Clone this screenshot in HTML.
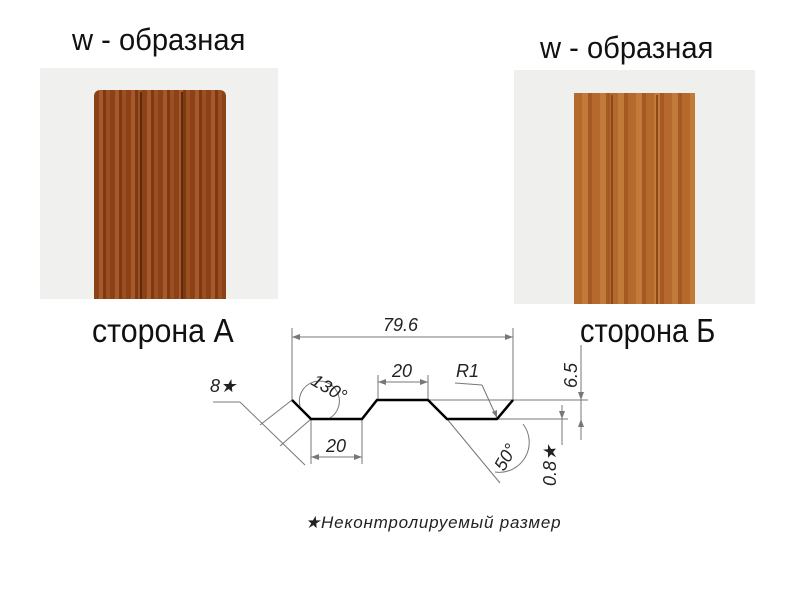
<!DOCTYPE html>
<html><head><meta charset="utf-8"><style>
body{margin:0;background:#fff;width:800px;height:596px;overflow:hidden;position:relative;font-family:"Liberation Sans",sans-serif}
.t{position:absolute;font-size:31px;color:#111;transform:scaleX(.94);transform-origin:left top;white-space:nowrap}
.ph{position:absolute;background:#f0f0ef}
.st{position:absolute;background:repeating-linear-gradient(90deg,#8a4216 0 5px,#a8582a 5px 9px,#7a3a12 9px 12px,#9c5022 12px 16px)}
</style></head><body>
<div class="t" style="left:72px;top:22px">w - образная</div>
<div class="t" style="left:540px;top:30px">w - образная</div>
<div class="ph" style="left:40px;top:68px;width:238px;height:231px"></div>
<div class="st" style="left:94px;top:90px;width:132px;height:209px;border-radius:6px 6px 0 0"></div>
<div style="position:absolute;left:140px;top:92px;width:2px;height:207px;background:#5e2c0c"></div>
<div style="position:absolute;left:181px;top:92px;width:2px;height:207px;background:#5e2c0c"></div>
<div class="ph" style="left:514px;top:70px;width:241px;height:234px;background:#efefee"></div>
<div class="st" style="left:574px;top:93px;width:121px;height:211px;background:repeating-linear-gradient(90deg,#b5692c 0 8px,#c27a3a 8px 14px,#a45a22 14px 18px)"></div>
<div style="position:absolute;left:611px;top:95px;width:2px;height:209px;background:#8a4a1a"></div>
<div style="position:absolute;left:656px;top:95px;width:2px;height:209px;background:#8a4a1a"></div>
<div class="t" style="left:92px;top:312px;font-size:33px;transform:scaleX(.92)">сторона А</div>
<div class="t" style="left:580px;top:312px;font-size:33px;transform:scaleX(.88)">сторона Б</div>
<svg width="800" height="596" style="position:absolute;left:0;top:0" font-family="Liberation Sans" font-style="italic" font-size="18" fill="#222">
<g stroke="#777" stroke-width="1" fill="none">
<line x1="292" y1="328" x2="292" y2="400"/><line x1="513" y1="328" x2="513" y2="400"/>
<line x1="292" y1="337" x2="513" y2="337"/>
<line x1="378" y1="375" x2="378" y2="400"/><line x1="428" y1="375" x2="428" y2="400"/>
<line x1="378" y1="382" x2="428" y2="382"/>
<line x1="311" y1="419" x2="311" y2="464"/><line x1="362" y1="419" x2="362" y2="464"/>
<line x1="311" y1="457" x2="362" y2="457"/>
<line x1="428" y1="400" x2="588" y2="400"/><line x1="497" y1="419" x2="568" y2="419"/>
<line x1="581" y1="345" x2="581" y2="440"/>
<line x1="562" y1="405" x2="562" y2="445"/>
<line x1="447" y1="419" x2="500" y2="483"/>
<line x1="455" y1="383" x2="482" y2="385"/><line x1="482" y1="385" x2="497" y2="418"/>
<line x1="213" y1="402" x2="240" y2="402"/><line x1="240" y1="402" x2="305" y2="465"/>
<line x1="292" y1="400" x2="260" y2="425"/><line x1="311" y1="419" x2="280" y2="446"/>
<path d="M300 406 A 20 20 0 1 1 330 418"/>
<path d="M523 424 A 30 30 0 0 1 495 472"/>
</g>
<g fill="#777">
<path d="M292 337l8-3v6zM513 337l-8-3v6zM378 382l8-3v6zM428 382l-8-3v6zM311 457l8-3v6zM362 457l-8-3v6zM581 400l-3-8h6zM581 419l-3 8h6zM562 419l-3-8h6zM497 418l-5-6 5-2z"/>
</g>
<path d="M292 400L311 419H362L377 400H428L447 419H497L513 400" stroke="#000" stroke-width="2.5" fill="none"/>
<text x="383" y="331">79.6</text>
<text x="392" y="377">20</text>
<text x="326" y="452">20</text>
<text x="456" y="377">R1</text>
<text x="210" y="392">8★</text>
<text transform="translate(310,384) rotate(30)">130°</text>
<text transform="translate(504,472) rotate(-60)">50°</text>
<text transform="translate(577,388) rotate(-90)">6.5</text>
<text transform="translate(556,486) rotate(-90)">0.8★</text>
<text x="305" y="528" font-size="17" letter-spacing="0.8">★Неконтролируемый размер</text>
</svg>
</body></html>
